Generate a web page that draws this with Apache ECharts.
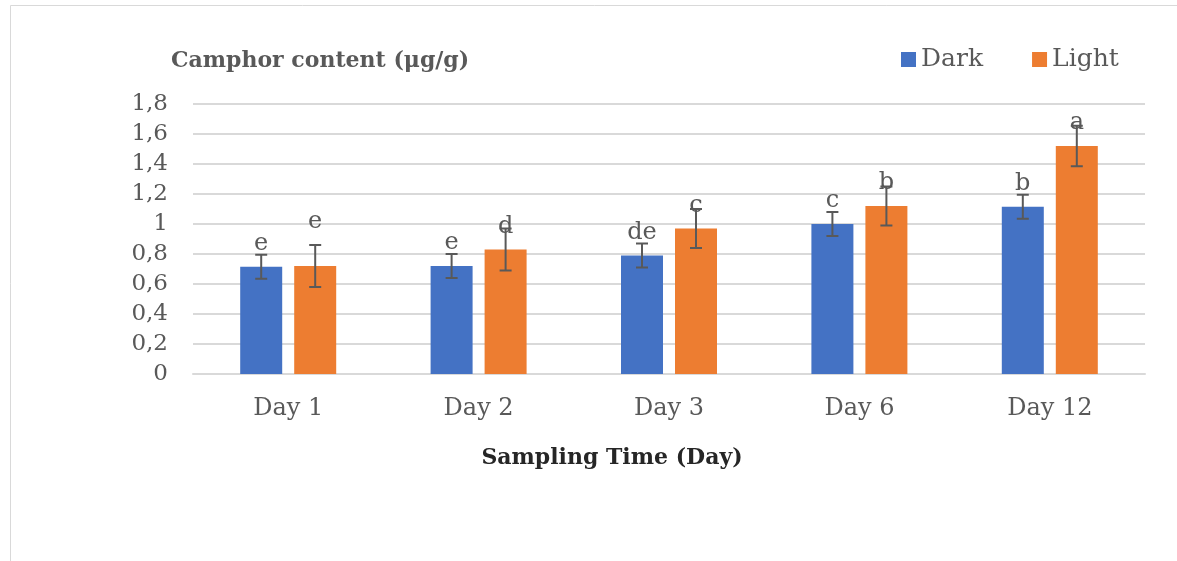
<!DOCTYPE html>
<html>
<head>
    <meta charset="utf-8">
    <title>Camphor content</title>
    <script src="https://cdn.jsdelivr.net/npm/echarts@6/dist/echarts.min.js"></script>
    <style>
        html, body { margin: 0; padding: 0; background: #fff; }
        #main { width: 1177px; height: 561px; }
    </style>
</head>
<body>
    <div id="main"></div>
    <script type="text/javascript">
        // data
        var days = ['Day 1', 'Day 2', 'Day 3', 'Day 6', 'Day 12'];
        var darkValues = [0.715, 0.72, 0.79, 1.0, 1.115];
        var lightValues = [0.72, 0.83, 0.97, 1.12, 1.52];
        var darkErr = [0.08, 0.08, 0.08, 0.08, 0.08];
        var lightErr = [0.14, 0.14, 0.13, 0.13, 0.135];
        var darkLetters = ['e', 'e', 'de', 'c', 'b'];
        var lightLetters = ['e', 'd', 'c', 'b', 'a'];

        const blue = '#4472C4';
        const orange = '#ED7D31';
        const grey = '#595959';
        const font = 'DejaVu Serif';
        const barW = 42;
        const barGap = 12;

        var myChart = echarts.init(document.getElementById('main'));

        // error bar series, shifted left/right onto its bar
        function errSeries(name, values, errs, side) {
            return {
                type: 'custom',
                name: name + ' err',
                z: 10,
                data: values.map((v, i) => [i, v - errs[i], v + errs[i]]),
                renderItem: function (params, api) {
                    var lo = api.coord([api.value(0), api.value(1)]);
                    var hi = api.coord([api.value(0), api.value(2)]);
                    var x = lo[0] + side * (barW + barGap) / 2;
                    var cap = 6;
                    var st = { stroke: grey, lineWidth: 2 };
                    return {
                        type: 'group',
                        children: [
                            { type: 'line', shape: { x1: x, y1: lo[1], x2: x, y2: hi[1] }, style: st },
                            { type: 'line', shape: { x1: x - cap, y1: lo[1], x2: x + cap, y2: lo[1] }, style: st },
                            { type: 'line', shape: { x1: x - cap, y1: hi[1], x2: x + cap, y2: hi[1] }, style: st }
                        ]
                    };
                }
            };
        }

        function letterLabel(letters) {
            return {
                show: true,
                position: 'top',
                distance: 11,
                fontFamily: font,
                fontSize: 24,
                color: grey,
                formatter: function (p) { return letters[p.dataIndex]; }
            };
        }

        // Light Day 1 letter sits higher in the original
        var lightData = lightValues.map((v, i) => i === 0 ? { value: v, label: { distance: 32 } } : v);

        option = {
            animation: false,
            textStyle: { fontFamily: font },
            graphic: [{
                type: 'rect',
                left: 8, top: 3,
                shape: { width: 1300, height: 700 },
                style: { fill: 'none', stroke: '#d9d9d9', lineWidth: 1 },
                silent: true
            }],
            title: [{
                text: 'Camphor content (μg/g)',
                left: 166, top: 45,
                textStyle: { fontFamily: font, fontSize: 22, fontWeight: 'bold', color: grey }
            }, {
                text: 'Sampling Time (Day)',
                left: 607, top: 442,
                textAlign: 'center',
                textStyle: { fontFamily: font, fontSize: 22, fontWeight: 'bold', color: '#262626' }
            }],
            legend: {
                data: ['Dark', 'Light'],
                left: 896, top: 42,
                icon: 'rect',
                itemWidth: 15, itemHeight: 15,
                itemGap: 49,
                textStyle: { fontFamily: font, fontSize: 25, color: grey }
            },
            grid: { left: 193, right: 32, top: 104, bottom: 187 },
            xAxis: {
                type: 'category',
                data: days,
                axisTick: { show: false },
                axisLine: { lineStyle: { color: '#d9d9d9', width: 2 } },
                axisLabel: { fontFamily: font, fontSize: 24, color: grey, margin: 23 }
            },
            yAxis: {
                type: 'value',
                min: 0, max: 1.8, interval: 0.2,
                axisLine: { show: false },
                axisTick: { show: false },
                splitLine: { lineStyle: { color: '#d9d9d9', width: 2 } },
                axisLabel: {
                    fontFamily: font, fontSize: 23, color: grey, margin: 25,
                    formatter: v => String(Number(v.toFixed(1))).replace('.', ',')
                }
            },
            series: [{
                name: 'Dark',
                type: 'bar',
                barWidth: barW,
                barGap: (barGap / barW * 100) + '%',
                itemStyle: { color: blue },
                label: letterLabel(darkLetters),
                data: darkValues
            }, {
                name: 'Light',
                type: 'bar',
                barWidth: barW,
                itemStyle: { color: orange },
                label: letterLabel(lightLetters),
                data: lightData
            },
            errSeries('Dark', darkValues, darkErr, -1),
            errSeries('Light', lightValues, lightErr, 1)]
        };

        myChart.setOption(option);
    </script>
</body>
</html>
